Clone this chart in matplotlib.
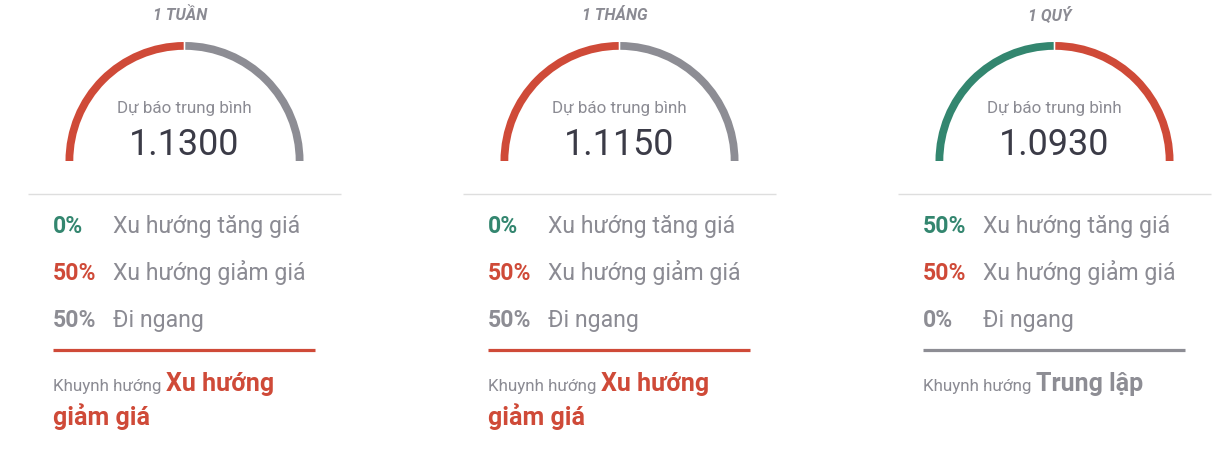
import matplotlib
matplotlib.use("Agg")
import matplotlib.pyplot as plt
from matplotlib.patches import Wedge

# ---- data ----
titles = ["1 TUẦN", "1 THÁNG", "1 QUÝ"]
forecast_values = ["1.1300", "1.1150", "1.0930"]
pct_up = [0, 0, 50]
pct_down = [50, 50, 50]
pct_side = [50, 50, 0]
row_labels = ["Xu hướng tăng giá", "Xu hướng giảm giá", "Đi ngang"]
tendency_labels = ["Xu hướng giảm giá", "Xu hướng giảm giá", "Trung lập"]
tendency_kind = ["down", "down", "side"]
center_label = "Dự báo trung bình"
tendency_prefix = "Khuynh hướng"

GREEN = "#33866f"
RED = "#cf4a38"
GRAY = "#8d8d94"
TEXT_GRAY = "#8b8b93"
DARK = "#3b3b47"
kind_color = {"up": GREEN, "down": RED, "side": GRAY}

W, H = 1227, 452
fig = plt.figure(figsize=(W / 100, H / 100), dpi=100)
ax = fig.add_axes([0, 0, 1, 1])
ax.set_xlim(0, W)
ax.set_ylim(H, 0)
ax.axis("off")
FONT = "Roboto"

def px(p):
    return p * 0.72

fig.canvas.draw()
renderer = fig.canvas.get_renderer()

def text_width(s, size, weight="normal"):
    t = ax.text(0, 0, s, fontsize=size, fontweight=weight, family=FONT)
    bb = t.get_window_extent(renderer=renderer)
    t.remove()
    return bb.width

for i in range(3):
    off = 435 * i
    cx, cy = 184.5 + off, 162
    # title
    ax.text(cx - 4.5, 20.5, titles[i], fontsize=px(16), fontweight="bold", fontstyle="italic",
            color=TEXT_GRAY, family=FONT, ha="center", va="baseline")
    # gauge
    parts = [(pct_up[i], GREEN), (pct_down[i], RED), (pct_side[i], GRAY)]
    cum = 0
    for p, col in parts:
        if p > 0:
            t1 = 180 + 180 * cum / 100
            t2 = 180 + 180 * (cum + p) / 100
            g1 = 0.4 if cum > 0 else 0
            g2 = 0.4 if cum + p < 100 else 0
            ax.add_patch(Wedge((cx, cy), 119, t1 + g1, t2 - g2, width=7.8,
                               facecolor=col, edgecolor="none"))
        cum += p
    ax.text(cx, 112.5, center_label, fontsize=px(17), color=TEXT_GRAY, family=FONT,
            ha="center", va="baseline")
    ax.text(cx, 155, forecast_values[i], fontsize=px(36), color=DARK, family=FONT,
            ha="center", va="baseline")
    # separator
    ax.plot([28 + off, 341 + off], [195, 195], color="#dedede", lw=1.0, solid_capstyle="butt")
    # rows
    vals = [(pct_up[i], GREEN), (pct_down[i], RED), (pct_side[i], GRAY)]
    for r, (v, col) in enumerate(vals):
        y = 233 + 47 * r
        ax.text(53 + off, y, f"{v}%", fontsize=px(23), fontweight="bold", color=col,
                family=FONT, va="baseline")
        ax.text(113 + off, y, row_labels[r], fontsize=px(23), color=TEXT_GRAY,
                family=FONT, va="baseline")
    tcol = kind_color[tendency_kind[i]]
    ax.plot([53 + off, 315 + off], [350.5, 350.5], color=tcol, lw=2.3, solid_capstyle="butt")
    # tendency
    ax.text(53 + off, 391, tendency_prefix, fontsize=px(17), color=TEXT_GRAY, family=FONT,
            va="baseline")
    start_x = 53 + off + text_width(tendency_prefix + " ", px(17))
    words = tendency_labels[i].split()
    lines = []
    cur = ""
    limit = 315 + off
    x0 = start_x
    for w in words:
        trial = (cur + " " + w).strip()
        if x0 + text_width(trial, px(25), "bold") > limit and cur:
            lines.append((x0, cur))
            cur = w
            x0 = 53 + off
        else:
            cur = trial
    lines.append((x0, cur))
    for k, (lx, s) in enumerate(lines):
        ax.text(lx, 391 + 34 * k, s, fontsize=px(25), fontweight="bold", color=tcol,
                family=FONT, va="baseline")

fig.savefig("out.png", dpi=100, facecolor="white")
